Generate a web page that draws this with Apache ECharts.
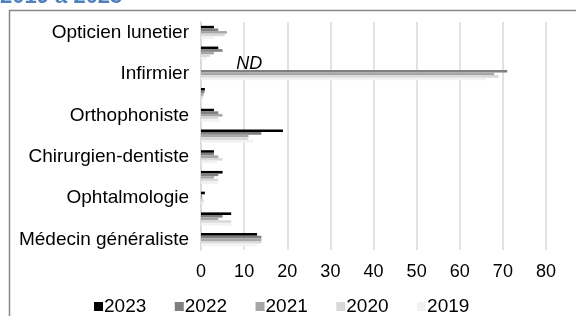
<!DOCTYPE html>
<html>
<head>
<meta charset="utf-8">
<script src="https://cdn.jsdelivr.net/npm/echarts@6/dist/echarts.min.js"></script>
<style>
html,body{margin:0;padding:0;background:#fff;}
#c{width:576px;height:316px;}
</style>
</head>
<body>
<div id="c"></div>
<script>
// Categories, top to bottom
const categories = [
  'Opticien lunetier',
  'Masseur-kinésithérapeute',
  'Infirmier',
  'Sage-femme',
  'Orthophoniste',
  'Pédiatrie',
  'Chirurgien-dentiste',
  'Gynécologie',
  'Ophtalmologie',
  'Psychiatrie',
  'Médecin généraliste'
];
const years = ['2023', '2022', '2021', '2020', '2019'];
const v2023 = [3, 4, null, 0.9, 3, 19, 3, 5, 0.9, 7, 13];
const v2022 = [4, 5, 71, 0.8, 4, 14, 3, 4, 0.2, 5, 14];
const v2021 = [6, 3, 68, 0.6, 5, 11, 4, 3, 0.3, 4, 14];
const v2020 = [5.5, 2, 69, 0.5, 4, 11, 5, 4, 0.6, 7, 14];
const v2019 = [3, 1.2, 66, 0.4, 4.3, 12, 3.7, 4, 0.7, 7, 13];
const xTicks = [0, 10, 20, 30, 40, 50, 60, 70, 80];
const ndNote = { text: 'ND', x: 11.2, category: 'Infirmier' };

const colors = ['#000000', '#7f7f7f', '#a6a6a6', '#d9d9d9', '#f2f2f2'];
const values = [v2023, v2022, v2021, v2020, v2019];
const FONT = 'Liberation Sans, Arial, sans-serif';

const series = years.map((y, i) => {
  const s = {
    name: y,
    type: 'bar',
    data: values[i],
    barGap: '0%',
    barCategoryGap: '37%',
    itemStyle: { color: colors[i] },
    silent: true,
    animation: false
  };
  if (i === 0) {
    s.markPoint = {
      symbol: 'circle',
      symbolSize: 0,
      data: [{ coord: [ndNote.x, ndNote.category] }],
      label: {
        show: true,
        formatter: ndNote.text,
        position: 'inside',
        offset: [0, -5],
        fontStyle: 'italic',
        fontFamily: FONT,
        fontSize: 18,
        color: '#000'
      }
    };
  }
  return s;
});

const chart = echarts.init(document.getElementById('c'), null, { renderer: 'canvas' });
chart.setOption({
  animation: false,
  backgroundColor: '#fff',
  textStyle: { fontFamily: FONT },
  graphic: [
    {
      type: 'rect',
      shape: { x: 9.5, y: 10.5, width: 600, height: 400 },
      style: { fill: 'none', stroke: '#888888', lineWidth: 1.5 },
      z: -1,
      silent: true
    },
    {
      type: 'text',
      left: 0,
      top: -14,
      style: { text: '2019 à 2023', fill: '#4f81bd', font: 'bold 22px ' + FONT }
    }
  ],
  legend: {
    data: years,
    left: 89,
    top: 292,
    itemWidth: 9,
    itemHeight: 9,
    itemGap: 28.5,
    icon: 'rect',
    textStyle: { fontSize: 19, color: '#000', fontFamily: FONT, padding: [0, 0, 0, -4] }
  },
  grid: { left: 201, right: 30, top: 22, bottom: 66, containLabel: false },
  xAxis: {
    type: 'value',
    min: xTicks[0],
    max: xTicks[xTicks.length - 1],
    interval: 10,
    axisLine: { show: false },
    axisTick: { show: false },
    splitLine: { show: true, lineStyle: { color: '#d9d9d9', width: 1.5 } },
    axisLabel: { fontSize: 18, color: '#000', margin: 13, fontFamily: FONT }
  },
  yAxis: {
    type: 'category',
    data: categories,
    inverse: true,
    axisLine: { show: true, lineStyle: { color: '#d9d9d9', width: 1.5 } },
    axisTick: { show: false },
    axisLabel: { interval: 1, fontSize: 19, color: '#000', margin: 12, fontFamily: FONT }
  },
  series: series
});
</script>
</body>
</html>
